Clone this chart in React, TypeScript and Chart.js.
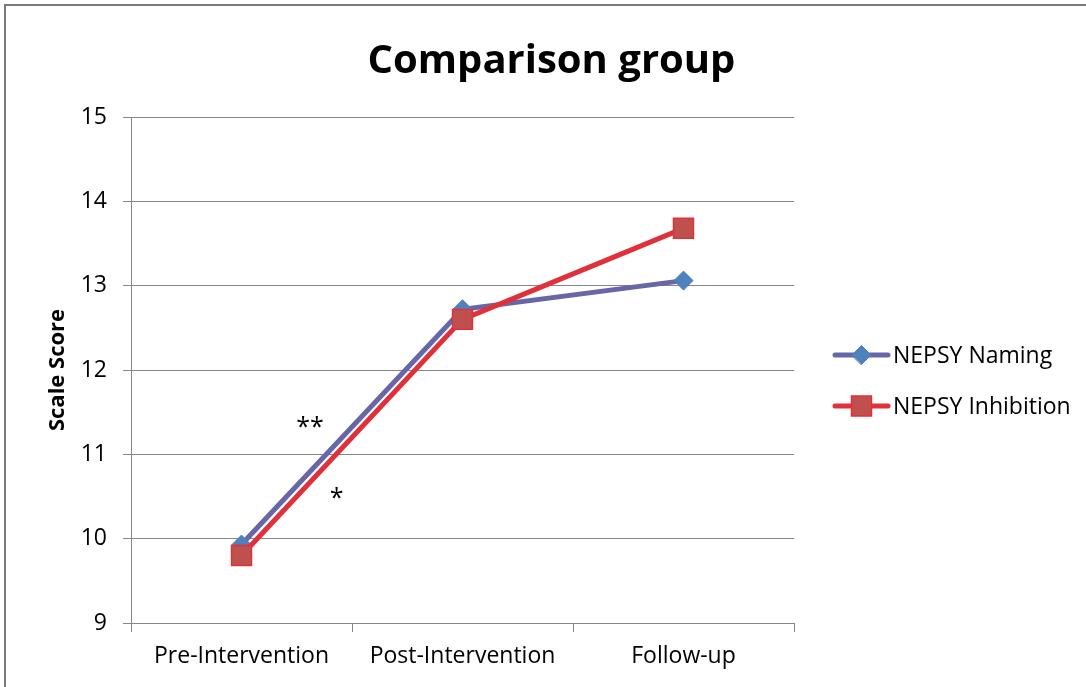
import React, { useEffect, useRef } from "react";
import { Chart, registerables } from "chart.js";

Chart.register(...registerables);

const categories = ["Pre-Intervention", "Post-Intervention", "Follow-up"];
const namingValues = [9.93, 12.72, 13.06];
const inhibitionValues = [9.8, 12.6, 13.68];
const yTicks = [9, 10, 11, 12, 13, 14, 15];
const seriesNames = ["NEPSY Naming", "NEPSY Inhibition"];
const titleText = "Comparison group";
const yTitle = "Scale Score";
// annotations: text, category position (fractional index), value
const annoTexts = ["**", "*"];
const annoX = [0.31, 0.43];
const annoY = [11.38, 10.54];

const FONT = "'Open Sans', 'Noto Sans', sans-serif";
const GRID = "#868686";
const NAMING_LINE = "#6767A7";
const NAMING_FILL = "#4F81BD";
const INHIB_LINE = "#E0313B";
const INHIB_FILL = "#C0504D";

function diamond(ctx: CanvasRenderingContext2D, x: number, y: number, r: number) {
  ctx.beginPath();
  ctx.moveTo(x - r, y);
  ctx.lineTo(x, y - r);
  ctx.lineTo(x + r, y);
  ctx.lineTo(x, y + r);
  ctx.closePath();
}

const framePlugin = {
  id: "frame",
  beforeDraw(chart: any) {
    const ctx = chart.ctx;
    ctx.save();
    ctx.fillStyle = "#ffffff";
    ctx.fillRect(0, 0, chart.width, chart.height);
    ctx.strokeStyle = "#7a7a7a";
    ctx.lineWidth = 2;
    ctx.strokeRect(5, 5, chart.width + 50, chart.height + 50);
    ctx.restore();
  },
  afterDraw(chart: any) {
    const ctx = chart.ctx;
    const area = chart.chartArea;
    const xs = chart.scales.x;
    const ys = chart.scales.y;
    ctx.save();
    // title
    ctx.fillStyle = "#000";
    ctx.font = `bold 40px ${FONT}`;
    ctx.textAlign = "center";
    ctx.textBaseline = "alphabetic";
    ctx.fillText(titleText, (area.left + area.right) / 2 + 89, 73);

    // annotations
    ctx.font = `25px ${FONT}`;
    annoTexts.forEach((t, i) => {
      const i0 = Math.floor(annoX[i]);
      const p0 = xs.getPixelForValue(i0);
      const p1 = xs.getPixelForValue(i0 + 1);
      const px = p0 + (p1 - p0) * (annoX[i] - i0);
      const py = ys.getPixelForValue(annoY[i]);
      const m = ctx.measureText(t);
      ctx.textAlign = "center";
      ctx.fillText(t, px, py + (m.actualBoundingBoxAscent - m.actualBoundingBoxDescent) / 2);
    });

    // legend
    const lx0 = area.right + 41;
    const lx1 = area.right + 94;
    const lc = (lx0 + lx1) / 2;
    const rows = [area.top + 238, area.top + 289];
    ctx.font = `23px ${FONT}`;
    ctx.textAlign = "left";
    ctx.textBaseline = "middle";
    const lineCols = [NAMING_LINE, INHIB_LINE];
    seriesNames.forEach((name, i) => {
      const y = rows[i];
      ctx.strokeStyle = lineCols[i];
      ctx.lineWidth = 5;
      ctx.lineCap = "round";
      ctx.beginPath();
      ctx.moveTo(lx0, y);
      ctx.lineTo(lx1, y);
      ctx.stroke();
      if (i === 0) {
        diamond(ctx, lc, y, 9.5);
        ctx.fillStyle = NAMING_FILL;
        ctx.fill();
        ctx.strokeStyle = "#4A7EBB";
        ctx.lineWidth = 1;
        ctx.stroke();
      } else {
        ctx.fillStyle = INHIB_FILL;
        ctx.fillRect(lc - 10, y - 10, 20, 20);
        ctx.strokeStyle = INHIB_LINE;
        ctx.lineWidth = 1.5;
        ctx.strokeRect(lc - 10, y - 10, 20, 20);
      }
      ctx.fillStyle = "#000";
      ctx.fillText(name, lx1 + 5, y + 1);
    });
    ctx.restore();
  },
};

export default function App() {
  const ref = useRef<HTMLCanvasElement | null>(null);
  useEffect(() => {
    if (!ref.current) return;
    const chart = new Chart(ref.current, {
      type: "line",
      data: {
        labels: categories,
        datasets: [
          {
            label: seriesNames[0],
            data: namingValues,
            borderColor: NAMING_LINE,
            borderWidth: 5,
            pointStyle: "rectRot",
            pointRadius: 9.5,
            pointHoverRadius: 9.5,
            pointBackgroundColor: NAMING_FILL,
            pointBorderColor: "#4A7EBB",
            pointBorderWidth: 1,
            tension: 0,
            order: 2,
          },
          {
            label: seriesNames[1],
            data: inhibitionValues,
            borderColor: INHIB_LINE,
            borderWidth: 5,
            pointStyle: "rect",
            pointRadius: 14.1,
            pointHoverRadius: 14.1,
            pointBackgroundColor: INHIB_FILL,
            pointBorderColor: INHIB_LINE,
            pointBorderWidth: 1.5,
            tension: 0,
            order: 1,
          },
        ],
      },
      options: {
        responsive: false,
        animation: false,
        events: [],
        layout: { padding: { left: 0, top: 117, right: 1086 - 794, bottom: 0 } },
        plugins: {
          legend: { display: false },
          title: { display: false },
          tooltip: { enabled: false },
        },
        scales: {
          x: {
            type: "category",
            offset: true,
            grid: {
              offset: true,
              drawOnChartArea: false,
              drawTicks: true,
              tickLength: 9,
              color: GRID,
            },
            border: { display: true, color: GRID },
            ticks: { color: "#000", font: { family: FONT, size: 23 }, padding: 11, maxRotation: 0 },
            afterFit(axis: any) {
              axis.height = 687 - 623;
            },
          },
          y: {
            min: 9,
            max: 15,
            afterBuildTicks(axis: any) {
              axis.ticks = yTicks.map((v) => ({ value: v }));
            },
            grid: { color: GRID, tickLength: 8, drawTicks: true },
            border: { display: true, color: GRID },
            ticks: { color: "#000", font: { family: FONT, size: 23 }, padding: 16 },
            title: {
              display: true,
              text: yTitle,
              color: "#000",
              font: { family: FONT, size: 22, weight: "bold" },
              padding: { top: 45, bottom: 0 },
            },
            afterFit(axis: any) {
              axis.width = 131;
            },
          },
        },
      },
      plugins: [framePlugin],
    });
    return () => chart.destroy();
  }, []);
  return (
    <div style={{ position: "fixed", left: 0, top: 0, width: 1086, height: 687, overflow: "hidden" }}>
      <canvas ref={ref} width={1086} height={687} style={{ display: "block" }} />
    </div>
  );
}
